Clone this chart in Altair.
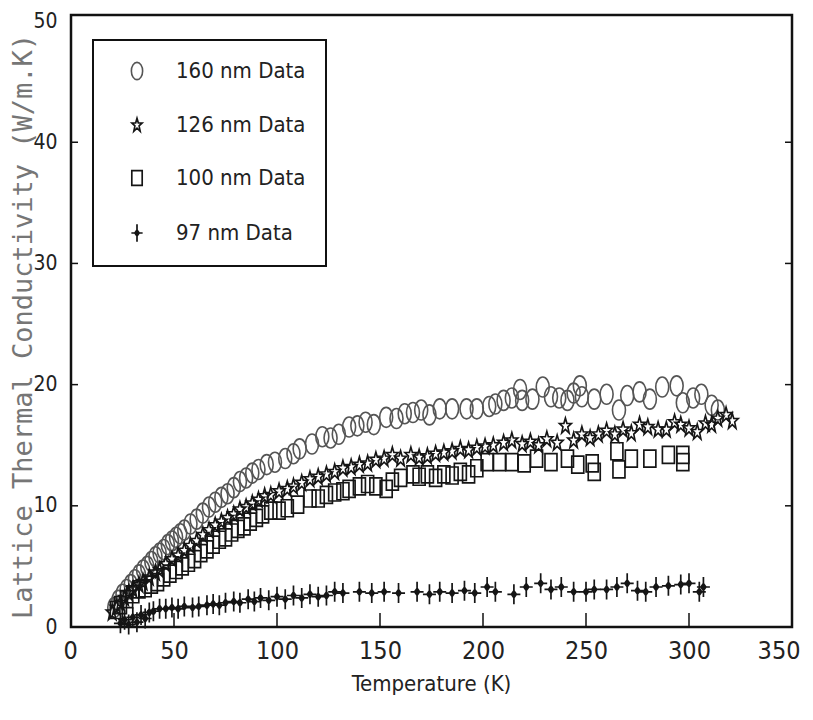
import altair as alt
import pandas as pd

series_names = ["160 nm Data", "126 nm Data", "100 nm Data", "97 nm Data"]

# 160 nm (circles)
t160 = [21, 23, 25, 27, 29, 31, 33, 35, 37, 39, 41, 43, 45, 47, 49, 51, 53, 55, 58, 61,
        64, 67, 70, 73, 76, 79, 82, 85, 88, 91, 95, 99, 104, 108, 111, 117, 122, 126, 130, 135,
        139, 143, 147, 153, 158, 162, 166, 170, 174, 179, 185, 192, 197, 203, 206, 210, 214, 218, 219, 224,
        229, 233, 237, 241, 244, 247, 248, 254, 260, 266, 270, 276, 281, 287, 294, 297, 302, 306, 311, 314]
k160 = [1.6, 2.2, 2.7, 3.1, 3.5, 3.9, 4.3, 4.7, 5.0, 5.4, 5.8, 6.1, 6.4, 6.8, 7.1, 7.4, 7.7, 8.0, 8.5, 8.9,
        9.4, 9.9, 10.3, 10.7, 11.0, 11.5, 12.0, 12.3, 12.7, 13.0, 13.4, 13.6, 13.9, 14.3, 14.7, 15.1, 15.7, 15.6, 15.9, 16.5,
        16.6, 16.9, 16.7, 17.3, 17.2, 17.6, 17.7, 17.9, 17.5, 18.0, 18.0, 18.0, 18.0, 18.2, 18.4, 18.7, 18.9, 19.6, 18.7, 18.8,
        19.8, 19.0, 18.9, 18.7, 19.3, 19.9, 19.0, 18.8, 19.2, 17.9, 19.1, 19.4, 18.8, 19.8, 19.9, 18.5, 18.9, 19.2, 18.3, 17.9]

# 126 nm (stars)
t126 = [20, 22, 24, 26, 28, 30, 33, 35, 38, 41, 43, 46, 49, 52, 55, 58, 61, 64, 67, 70,
        73, 76, 79, 82, 85, 88, 91, 94, 97, 101, 105, 108, 112, 116, 120, 124, 128, 132, 136, 140,
        144, 148, 152, 156, 160, 165, 169, 173, 177, 181, 185, 189, 193, 197, 201, 205, 210, 214, 219, 223,
        227, 231, 236, 240, 244, 248, 252, 256, 260, 264, 268, 272, 276, 280, 285, 289, 293, 296, 300, 304,
        308, 311, 314, 318, 321]
k126 = [1.2, 1.6, 2.0, 2.4, 2.8, 3.1, 3.5, 3.7, 4.1, 4.5, 4.7, 5.2, 5.6, 5.9, 6.3, 6.7, 7.1, 7.6, 8.0, 8.4,
        8.7, 9.0, 9.3, 9.7, 9.9, 10.2, 10.5, 10.8, 10.9, 11.2, 11.4, 11.6, 11.9, 12.2, 12.4, 12.6, 12.8, 13.1, 13.2, 13.4,
        13.5, 13.8, 13.9, 14.2, 13.9, 14.2, 14.0, 14.1, 14.3, 14.4, 14.5, 14.7, 14.6, 14.8, 14.9, 15.0, 15.2, 15.4, 15.1, 15.3,
        15.0, 15.5, 15.2, 16.6, 15.4, 15.9, 15.6, 15.9, 16.2, 15.9, 16.3, 16.0, 16.7, 16.5, 16.3, 16.3, 16.9, 16.7, 16.4, 16.1,
        16.8, 16.7, 17.2, 17.5, 17.0]

# 100 nm (squares)
t100 = [22, 24, 27, 30, 33, 36, 39, 42, 45, 48, 51, 54, 57, 60, 63, 66, 69, 72, 75, 78,
        81, 84, 87, 90, 93, 97, 101, 105, 110, 116, 120, 124, 128, 132, 135, 140, 144, 148, 153, 156,
        160, 166, 169, 173, 177, 181, 185, 189, 193, 197, 202, 208, 214, 220, 226, 233, 241, 246, 253, 254,
        265, 266, 272, 281, 290, 297, 297]
k100 = [1.4, 1.8, 2.3, 2.7, 3.1, 3.2, 3.5, 3.7, 4.1, 4.4, 4.7, 5.0, 5.3, 5.6, 6.1, 6.4, 6.8, 7.2, 7.4, 7.8,
        8.1, 8.3, 8.7, 9.0, 9.3, 9.6, 9.6, 9.8, 10.1, 10.6, 10.6, 10.9, 11.1, 11.2, 11.4, 11.6, 11.8, 11.6, 11.4, 12.0,
        12.3, 12.6, 12.4, 12.6, 12.3, 12.6, 12.5, 12.8, 12.6, 13.1, 13.6, 13.6, 13.6, 13.5, 13.9, 13.6, 13.9, 13.4, 13.5, 12.8,
        14.5, 13.0, 13.9, 13.9, 14.2, 14.2, 13.6]

# 97 nm (crosses)
t97 = [24, 26, 28, 30, 32, 34, 36, 38, 40, 43, 46, 49, 52, 55, 59, 62, 66, 69, 72, 75,
       79, 82, 86, 89, 92, 96, 100, 104, 108, 112, 116, 120, 124, 128, 132, 140, 146, 152, 159, 168,
       174, 179, 185, 191, 196, 202, 206, 215, 221, 228, 233, 238, 244, 250, 254, 260, 265, 270, 275, 279,
       284, 290, 296, 300, 305, 307]
k97 = [0.3, 0.6, 0.2, 0.8, 0.4, 1.0, 0.7, 1.2, 1.3, 1.5, 1.5, 1.6, 1.5, 1.7, 1.6, 1.7, 1.8, 1.9, 1.8, 2.0,
       2.1, 2.0, 2.3, 2.1, 2.4, 2.2, 2.5, 2.3, 2.6, 2.4, 2.7, 2.5, 2.6, 2.9, 2.8, 2.9, 2.8, 2.9, 2.8, 2.9,
       2.7, 2.9, 2.8, 3.0, 2.8, 3.3, 2.9, 2.7, 3.3, 3.6, 3.1, 3.3, 2.9, 2.9, 3.1, 3.1, 3.3, 3.6, 3.0, 2.9,
       3.3, 3.4, 3.5, 3.6, 2.9, 3.3]

x_tick_vals = [50, 100, 150, 200, 250, 300]
y_tick_vals = [10, 20, 30, 40]
x_label_vals = [0, 50, 100, 150, 200, 250, 300, 350]
y_label_vals = [0, 10, 20, 30, 40, 50]

rows = []
for name, ts, ks in [(series_names[0], t160, k160), (series_names[1], t126, k126),
                     (series_names[2], t100, k100), (series_names[3], t97, k97)]:
    for t, k in zip(ts, ks):
        rows.append({"series": name, "T": t, "k": k})
df = pd.DataFrame(rows)

NARROW = "DejaVu Sans Condensed, Liberation Sans, sans-serif"

W, H = 721, 612
xs = alt.Scale(domain=[0, 350], nice=False, zero=False)
ys = alt.Scale(domain=[0, 50.5], nice=False, zero=False)

x_axis = alt.Axis(
    values=x_label_vals, title="Temperature (K)", domain=False, ticks=False, grid=False,
    labelFont=NARROW, labelFontSize=25, labelColor="#222222", labelPadding=11,
    labelFlush=True, labelFlushOffset=8,
    titleFont=NARROW, titleFontSize=22, titleFontWeight="normal", titleColor="#222222",
    titleX=360, titleY=56, titleBaseline="middle", titleAlign="center")
y_axis = alt.Axis(
    values=y_label_vals, title="Lattice Thermal Conductivity (W/m.K)", domain=False, ticks=False, grid=False,
    labelFont=NARROW, labelFontSize=21, labelColor="#222222", labelPadding=14, labelFlush=False,
    titleFont="DejaVu Sans Mono", titleFontSize=27, titleFontWeight="normal", titleColor="#767676",
    titleX=-48, titleY=311, titleAngle=-90, titleBaseline="middle", titleAlign="center")

shape_paths = [
    "M-0.65,0A0.65,1,0,1,0,0.65,0A0.65,1,0,1,0,-0.65,0Z",
    "M0,-0.78L0.15,-0.25L0.6,-0.24L0.24,0.1L0.37,0.72L0,0.36L-0.37,0.72L-0.24,0.1L-0.6,-0.24L-0.15,-0.25Z",
    "M-0.6,-0.85L0.6,-0.85L0.6,0.85L-0.6,0.85Z",
    "M0,-1L0,1M-0.65,0L0.65,0M0,-0.35L0.25,0L0,0.35L-0.25,0Z",
]
colors = ["#555555", "#151515", "#151515", "#151515"]
stroke_widths = [1.6, 1.7, 1.8, 2.4]

points = alt.Chart(df).mark_point(filled=False, size=400, opacity=1).encode(
    x=alt.X("T:Q", scale=xs, axis=x_axis),
    y=alt.Y("k:Q", scale=ys, axis=y_axis),
    shape=alt.Shape("series:N", scale=alt.Scale(domain=series_names, range=shape_paths), legend=alt.Legend(title=None)),
    color=alt.Color("series:N", scale=alt.Scale(domain=series_names, range=colors), legend=alt.Legend(title=None)),
    strokeWidth=alt.StrokeWidth("series:N", scale=alt.Scale(domain=series_names, range=stroke_widths), legend=None),
)

xt = alt.Chart(pd.DataFrame({"v": x_tick_vals})).mark_rule(color="#111111", strokeWidth=1.5).encode(
    x=alt.X("v:Q", scale=xs, axis=x_axis), y=alt.value(H), y2=alt.value(H - 14))
yl = alt.Chart(pd.DataFrame({"v": y_tick_vals})).mark_rule(color="#111111", strokeWidth=1.5).encode(
    y=alt.Y("v:Q", scale=ys, axis=y_axis), x=alt.value(0), x2=alt.value(7))
yr = alt.Chart(pd.DataFrame({"v": y_tick_vals})).mark_rule(color="#111111", strokeWidth=1.5).encode(
    y=alt.Y("v:Q", scale=ys, axis=y_axis), x=alt.value(W - 7), x2=alt.value(W))

chart = alt.layer(points, xt, yl, yr).properties(
    width=W, height=H,
    autosize=alt.AutoSizeParams(type="none"),
    padding={"left": 63, "top": 7, "right": 13, "bottom": 75},
    background="white",
).configure_view(stroke="#111111", strokeWidth=2.5).configure_legend(
    orient="none", legendX=22, legendY=25, padding=20,
    strokeColor="#111111", strokeWidth=2, fillColor="white",
    labelFont=NARROW, labelFontSize=22, labelColor="#222222",
    symbolSize=300, symbolStrokeWidth=1.6, symbolOffset=13, labelOffset=28, rowPadding=31,
)

chart.save("out.html", embed_options={"renderer": "svg", "actions": False})
